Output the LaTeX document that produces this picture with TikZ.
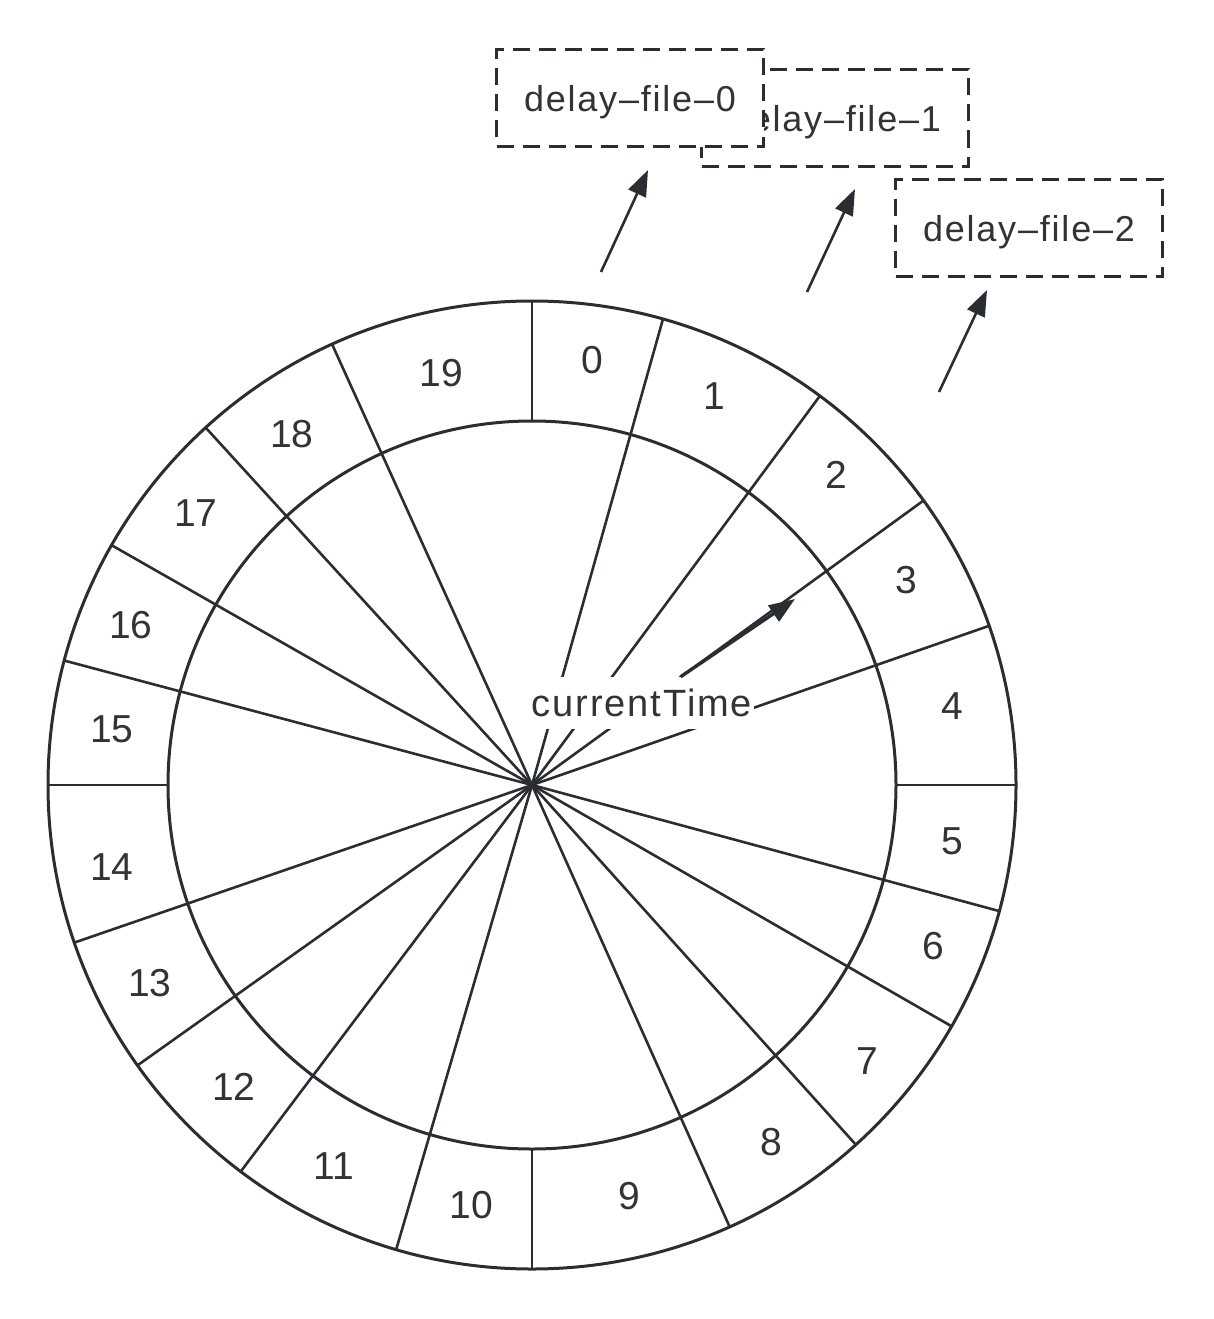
\documentclass[tikz,border=0pt]{standalone}
\usepackage{fontspec}
\setmainfont{Liberation Sans}
\newfontfamily\wordfont{Liberation Sans}[LetterSpace=5]
\usepackage{tikz}
\usetikzlibrary{calc}
\usetikzlibrary{arrows.meta}
\definecolor{linecol}{RGB}{42,46,50}
\definecolor{textcol}{RGB}{51,51,51}
\newcommand{\spoke}[1]{ \draw[wheel] (c) -- ($(c)+(#1:484)$);}
\newcommand{\shortspoke}[1]{ \draw[wheel] ($(c)+(#1:364)$) -- ($(c)+(#1:484)$);}
\newcommand{\slot}[3]{ \node[slotlabel] (s#1) at (#2,#3) {#1};}
\tikzset{
  wheel/.style={draw=linecol, line width=2.6pt},
  rim/.style={draw=linecol, line width=3pt},
  slotlabel/.style={text=textcol, inner sep=0pt, font=\fontsize{39}{44}\selectfont},
  filebox/.style={draw=linecol, fill=white, line width=2.6pt, dash pattern=on 17pt off 9pt,
    minimum width=267pt, minimum height=97pt, inner sep=0pt, text depth=0pt, text=textcol,
    font=\wordfont\fontsize{36}{40}\selectfont},
  ptr/.style={draw=linecol, line width=2.6pt, -{Triangle[length=26pt,width=19pt]}},
}

\begin{document}
\begin{tikzpicture}[x=1pt,y=-1pt]
        \useasboundingbox (0,0) rectangle (1214,1319);
        \coordinate (c) at (532,785);

        % wheel
        \draw[rim] (c) circle (484);
        \draw[rim] (c) circle (364);

        \spoke{-74.3}
        \spoke{-53.5}
        \spoke{-36.0}
        \spoke{-19.2}
        \shortspoke{0}
        \spoke{15.1}
        \spoke{29.9}
        \spoke{48.0}
        \spoke{65.9}
        \shortspoke{90}
        \spoke{106.3}
        \spoke{127.0}
        \spoke{144.6}
        \spoke{161.0}
        \shortspoke{180}
        \spoke{194.9}
        \spoke{209.7}
        \spoke{227.6}
        \spoke{245.6}
        \shortspoke{270}

        % slots
        \slot{0}{592}{360}
        \slot{1}{714}{396}
        \slot{2}{836}{475}
        \slot{3}{906}{580}
        \slot{4}{952}{706}
        \slot{5}{952}{841}
        \slot{6}{933}{946}
        \slot{7}{867}{1061}
        \slot{8}{771}{1142}
        \slot{9}{629}{1196}
        \slot{10}{471}{1205}
        \slot{11}{334}{1166}
        \slot{12}{234}{1087}
        \slot{13}{150}{983}
        \slot{14}{112}{867}
        \slot{15}{112}{729}
        \slot{16}{131}{625}
        \slot{17}{196}{513}
        \slot{18}{292}{434}
        \slot{19}{441}{373}

        % current time hand
        \node[fill=white, text=textcol, inner xsep=2pt, inner ysep=0pt, minimum height=52pt,
          font=\wordfont\fontsize{38}{44}\selectfont] (ct) at (642,703) {currentTime};
        \coordinate (hand) at (795,599);
        \draw[draw=linecol, line width=3.4pt, -{Triangle[length=26pt,width=19pt]}] (ct) -- (hand);

        % delay files
        \node[filebox] (d1) at (835,118) {delay\textendash file\textendash 1};
        \node[filebox] (d0) at (630,98) {delay\textendash file\textendash 0};
        \node[filebox] (d2) at (1029,228) {delay\textendash file\textendash 2};

        \coordinate (t0) at (601,272);
        \coordinate (h0) at (648,170);
        \coordinate (t1) at (807,292);
        \coordinate (h1) at (855,189);
        \coordinate (t2) at (939,392);
        \coordinate (h2) at (987,290);
        \draw[ptr] (t0) -- (h0);
        \draw[ptr] (t1) -- (h1);
        \draw[ptr] (t2) -- (h2);

    \end{tikzpicture}
\end{document}
